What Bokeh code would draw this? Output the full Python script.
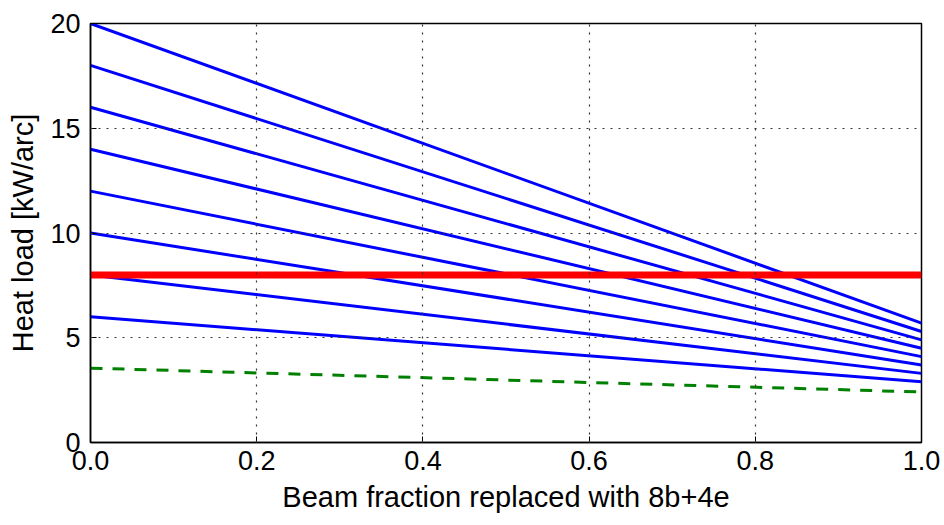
from bokeh.plotting import figure
from bokeh.models import Range1d, FixedTicker
from bokeh.embed import file_html
from bokeh.resources import INLINE

# Data
fraction = [0.0, 1.0]
start_loads = [6, 8, 10, 12, 14, 16, 18, 20]
end_loads = [2.9, 3.3, 3.7, 4.1, 4.5, 4.9, 5.3, 5.7]
limit_load = [8.0, 8.0]
green_load = [3.55, 2.41]
x_ticks = [0.0, 0.2, 0.4, 0.6, 0.8, 1.0]
y_ticks = [0, 5, 10, 15, 20]

FONT = "Liberation Sans"

p = figure(width=944, height=525, output_backend="svg", toolbar_location=None,
           x_range=Range1d(0, 1), y_range=Range1d(0, 20),
           min_border_left=90, min_border_right=23, min_border_top=23, min_border_bottom=83)
p.background_fill_color = "white"
p.border_fill_color = "white"
p.outline_line_color = "black"
p.outline_line_width = 1.5

p.line(fraction, green_load, line_color="green", line_width=3, line_dash="12 10")
for s, e in zip(start_loads, end_loads):
    p.line(fraction, [s, e], line_color="blue", line_width=3)
p.line(fraction, limit_load, line_color="red", line_width=7)

p.xaxis.ticker = FixedTicker(ticks=x_ticks)
p.yaxis.ticker = FixedTicker(ticks=y_ticks)
p.xaxis.major_label_overrides = {t: f"{t:.1f}" for t in x_ticks}
p.yaxis.major_label_overrides = {t: str(t) for t in y_ticks}

for ax in (p.xaxis, p.yaxis):
    ax.axis_line_color = "black"
    ax.axis_line_width = 1.5
    ax.major_tick_in = 6
    ax.major_tick_out = 0
    ax.major_tick_line_color = "black"
    ax.minor_tick_line_color = None
    ax.major_label_text_font = FONT
    ax.major_label_text_font_size = "27px"
    ax.major_label_text_color = "black"
    ax.axis_label_text_font = FONT
    ax.axis_label_text_font_size = "29px"
    ax.axis_label_text_font_style = "normal"
    ax.axis_label_text_color = "black"

p.xaxis.axis_label = "Beam fraction replaced with 8b+4e"
p.yaxis.axis_label = "Heat load [kW/arc]"
p.xaxis.major_label_standoff = 8
p.yaxis.major_label_standoff = 10
p.xaxis.axis_label_standoff = 8
p.yaxis.axis_label_standoff = 8

for g in (p.xgrid, p.ygrid):
    g.grid_line_color = "#333333"
    g.grid_line_dash = "2 6"
    g.grid_line_width = 1.2
    g.level = "overlay"

open("out.html", "w").write(file_html(p, INLINE))
